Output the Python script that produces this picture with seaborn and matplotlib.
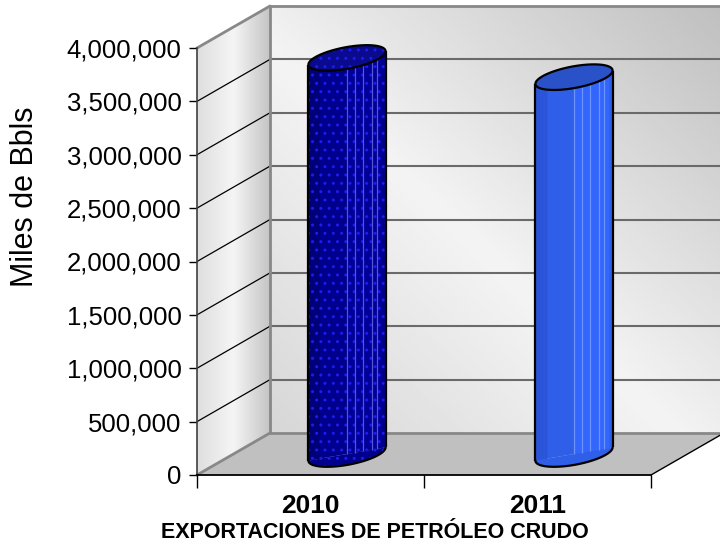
import numpy as np
import pandas as pd
import matplotlib
matplotlib.use('Agg')
import matplotlib.pyplot as plt
import matplotlib.transforms as mtransforms
from matplotlib import font_manager
from matplotlib.patches import Polygon
import seaborn as sns

# data
years = ['2010', '2011']
exports = [3710000, 3530000]
y_ticks = [0, 500000, 1000000, 1500000, 2000000, 2500000, 3000000, 3500000, 4000000]
y_tick_labels = ['0', '500,000', '1,000,000', '1,500,000', '2,000,000',
                 '2,500,000', '3,000,000', '3,500,000', '4,000,000']
x_title = 'EXPORTACIONES DE PETRÓLEO CRUDO'
y_title = 'Miles de Bbls'

body_colors = ['#00008c', '#2f5fe9']
shade_colors = ['#000078', '#2a55d8']
light_colors = ['#00009a', '#3366fc']
cap_colors = ['#0a0a8e', '#2a52c8']
streak_colors = ['#5656d0', '#6d93ff']
streak_pos = [0.5, 0.6, 0.71, 0.82, 0.89]

sns.set_style('white')
plt.rcParams['font.family'] = ['Liberation Sans', 'DejaVu Sans']
for key in ['text.color', 'axes.labelcolor', 'xtick.color', 'ytick.color']:
    plt.rcParams[key] = 'black'
names = {f.name for f in font_manager.fontManager.ttflist}
if 'Liberation Sans Narrow' in names:
    bold_family = ['Liberation Sans Narrow', 'Liberation Sans']
    year_size, title_size = 21.5, 18
else:
    bold_family = ['Liberation Sans']
    year_size, title_size = 19, 15.5

fig = plt.figure(figsize=(7.2, 5.53), dpi=100)
ax = fig.add_axes([197 / 720, 78 / 553, 454 / 720, 427 / 553])
ax.patch.set_visible(False)

df = pd.DataFrame({'year': years, 'value': exports})
sns.barplot(data=df, x='year', y='value', hue='year', palette=body_colors,
            width=0.34, saturation=1, linewidth=0, errorbar=None,
            dodge=False, legend=False, ax=ax)
bars = sorted(ax.patches, key=lambda p: p.get_x())

ax.set_xlim(-0.5, 1.5)
ax.set_ylim(0, 4000000)

# oblique depth of the 3D box, in pixels
DX, DY = 73, 42
d = np.array([DX, DY])


def to_px(x, y):
    return np.array(ax.transData.transform((x, y)))


ident = mtransforms.IdentityTransform()
o = to_px(-0.5, 0)
u = to_px(1.5, 0) - o
v = to_px(-0.5, 4000000) - o

# walls with gradients
gx, gy = np.meshgrid(np.linspace(0, 1, 256), np.linspace(0, 1, 256))
back = np.interp((gx + gy) / 2, [0, 0.45, 1], [0.84, 0.955, 0.75])
side = np.interp(gx, [0, 0.5, 1], [0.87, 0.96, 0.77])
ax.imshow(back, cmap='gray', vmin=0, vmax=1, origin='lower', extent=(0, 1, 0, 1),
          aspect='auto', interpolation='bilinear', clip_on=False, zorder=0.1,
          transform=mtransforms.Affine2D.from_values(u[0], u[1], v[0], v[1], o[0] + DX, o[1] + DY))
ax.imshow(side, cmap='gray', vmin=0, vmax=1, origin='lower', extent=(0, 1, 0, 1),
          aspect='auto', interpolation='bilinear', clip_on=False, zorder=0.1,
          transform=mtransforms.Affine2D.from_values(DX, DY, v[0], v[1], o[0], o[1]))

ax.add_patch(Polygon([o, o + u, o + u + d, o + d], closed=True, facecolor='#c0c0c0',
                     edgecolor='none', transform=ident, clip_on=False, zorder=0.2))

# gridlines on the walls
for t in y_ticks[1:-1]:
    p = to_px(-0.5, t)
    ax.plot([p[0], p[0] + DX], [p[1], p[1] + DY], color='black', lw=0.9,
            transform=ident, clip_on=False, zorder=0.3)
    ax.plot([p[0] + DX, p[0] + DX + u[0]], [p[1] + DY, p[1] + DY], color='#6a6a6a',
            lw=1.5, transform=ident, clip_on=False, zorder=0.3)

# box edges
grey_edges = [(o + d, o + d + u), (o + d, o + d + v), (o + d + v, o + d + v + u),
              (o + v, o + v + d), (o, o + d)]
for a0, a1 in grey_edges:
    ax.plot([a0[0], a1[0]], [a0[1], a1[1]], color='#888888', lw=2,
            transform=ident, clip_on=False, zorder=0.4)
ax.plot([o[0] + u[0], o[0] + u[0] + DX], [o[1], o[1] + DY], color='black', lw=1,
        transform=ident, clip_on=False, zorder=0.4)

# cylinders
PX, PY = 20, 12.8
half_w = (to_px(bars[0].get_width() / 2, 0) - to_px(0, 0))[0]
ea = np.sqrt(half_w ** 2 - PX ** 2)
t0 = np.arctan2(PX, ea)
shear = PY * np.sin(t0) / half_w


def ring(c, t):
    return np.column_stack([c[0] + ea * np.cos(t) + PX * np.sin(t), c[1] + PY * np.sin(t)])


for i, bar in enumerate(bars):
    val = exports[i]
    w = bar.get_width()
    x0 = bar.get_x()
    cxd = x0 + w / 2
    cx = to_px(cxd, 0)[0]
    T = ax.transData + mtransforms.Affine2D().translate(-cx, 0).skew(0, np.arctan(shear)) \
        .translate(cx + DX / 2, DY / 2)
    bar.set_transform(T)
    bar.set_clip_on(False)
    bar.set_zorder(2)

    # shading bands across the cylinder
    bands = [ax.fill_between([x0, x0 + 0.15 * w], 0, val, transform=T, color=shade_colors[i],
                             lw=0, zorder=2.02, clip_on=False),
             ax.fill_between([x0 + 0.5 * w, x0 + 0.95 * w], 0, val, transform=T,
                             color=light_colors[i], lw=0, zorder=2.02, clip_on=False)]
    if i == 0:
        for patch in [bar] + bands:
            patch.set_hatch('..')
            patch.set_edgecolor('#1c1cf0')
            patch.set_linewidth(0)

    ax.vlines([x0 + f * w for f in streak_pos], 0, val, transform=T,
              colors=streak_colors[i], lw=0.9, zorder=2.1, clip_on=False)
    ax.vlines([cxd - w / 2, cxd + w / 2], 0, val, transform=T, colors='black',
              lw=1.6, zorder=2.3, clip_on=False)

    bottom = T.transform((cxd, 0))
    arc = ring(bottom, np.linspace(t0 + np.pi, t0 + 2 * np.pi, 80))
    low = Polygon(arc, closed=True, facecolor=body_colors[i], edgecolor='none',
                  transform=ident, clip_on=False, zorder=2.05)
    ax.add_patch(low)
    ax.plot(arc[:, 0], arc[:, 1], color='black', lw=1.6, transform=ident,
            clip_on=False, zorder=2.3)

    top = T.transform((cxd, val))
    cap = ring(top, np.linspace(0, 2 * np.pi, 120))
    cap_fill = Polygon(cap, closed=True, facecolor=cap_colors[i], edgecolor='none',
                       transform=ident, clip_on=False, zorder=2.4)
    ax.add_patch(cap_fill)
    if i == 0:
        for patch in (low, cap_fill):
            patch.set_hatch('..')
            patch.set_edgecolor('#1c1cf0')
            patch.set_linewidth(0)
    ax.add_patch(Polygon(cap, closed=True, facecolor='none', edgecolor='black', lw=1.6,
                         transform=ident, clip_on=False, zorder=2.5))

ax.set_xlim(-0.5, 1.5)
ax.set_ylim(0, 4000000)
ax.set_autoscale_on(False)

# axes, ticks and labels
for s in ['top', 'right']:
    ax.spines[s].set_visible(False)
ax.spines['left'].set_color('#404040')
ax.spines['left'].set_linewidth(1.2)
ax.spines['bottom'].set_color('black')
ax.spines['bottom'].set_linewidth(1.3)

ax.set_yticks(y_ticks, y_tick_labels)
ax.tick_params(axis='y', left=True, length=6, width=1, color='black', labelcolor='black',
               pad=5, labelsize=18.5)
ax.set_xticks([-0.5, 0.5, 1.5])
ax.set_xticklabels([])
ax.set_xticks([0, 1], minor=True)
ax.set_xticklabels(years, minor=True, fontweight='bold', fontsize=year_size, family=bold_family)
ax.tick_params(axis='x', which='major', bottom=True, length=9, width=1, color='black')
ax.tick_params(axis='x', which='minor', bottom=True, length=0, pad=14, labelcolor='black')

ax.set_xlabel(x_title, fontweight='bold', fontsize=title_size, family=bold_family, color='black')
ax.xaxis.set_label_coords((375 - 197) / 454, (31 - 78) / 427)
ax.set_ylabel(y_title, fontsize=22, va='center', color='black')
ax.yaxis.set_label_coords((25 - 197) / 454, (356 - 78) / 427)

fig.savefig('out.png', dpi=100, facecolor='white')
